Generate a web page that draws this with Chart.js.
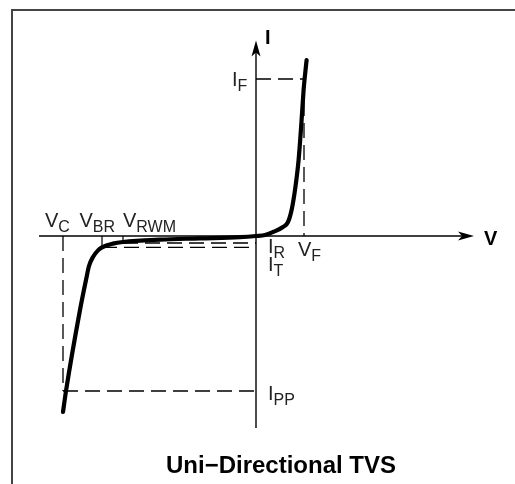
<!DOCTYPE html>
<html>
<head>
<meta charset="utf-8">
<script src="https://cdn.jsdelivr.net/npm/chart.js@4.4.0/dist/chart.umd.min.js"></script>
<style>
    html, body { margin: 0; padding: 0; background: #fff; }
    #wrap { position: relative; width: 515px; height: 484px; }
</style>
</head>
<body>
<div id="wrap"><canvas id="tvsChart"></canvas></div>
<script>
// V-I characteristic of a uni-directional TVS (arbitrary units, origin where the axes cross)
const curveV = [-9.65, -9.5, -8.8, -8.5, -8.35, -8.15, -7.9, -7.7, -7.15, -6.65, -4.8, -2.8, -0.8, 0, 0.45, 0.85, 1.35, 1.6, 1.78, 1.95, 2.13, 2.28, 2.38, 2.43, 2.53];
const curveI = [-8.8, -7.75, -3.7, -2.2, -1.5, -1.05, -0.72, -0.57, -0.38, -0.3, -0.18, -0.12, -0.06, 0, 0.05, 0.2, 0.45, 0.7, 1.3, 2.3, 3.8, 5.8, 7.3, 7.85, 8.8];

// marked voltages and currents
const vC = -9.65, vBR = -7.7, vRWM = -6.65, vF = 2.4;
const iF = 7.85, iR = -0.35, iT = -0.57, iPP = -7.75;

// axis extents and visible window
const vAxisEnds = [-10.85, 10.9];
const iAxisEnds = [-9.6, 9.77];
const viewV = [-12.8, 12.95];
const viewI = [-12.4, 11.8];

const FONT = '"Liberation Sans", Arial, Helvetica, sans-serif';

function line(points, dash, width) {
    return {
        data: points.map(([x, y]) => ({ x, y })),
        showLine: true,
        borderColor: '#000',
        borderWidth: width,
        borderDash: dash,
        pointRadius: 0,
        fill: false,
        tension: 0
    };
}

const dash = [15, 7];

const datasets = [
    {
        data: curveV.map((v, i) => ({ x: v, y: curveI[i] })),
        showLine: true,
        borderColor: '#000',
        borderWidth: 4.2,
        pointRadius: 0,
        fill: false,
        cubicInterpolationMode: 'monotone',
        borderCapStyle: 'round',
        borderJoinStyle: 'round'
    },
    line([[vAxisEnds[0], 0], [vAxisEnds[1] - 0.5, 0]], [], 1.4),
    line([[0, iAxisEnds[0]], [0, iAxisEnds[1] - 0.5]], [], 1.4),
    line([[0, iF], [vF, iF]], dash, 1.3),
    line([[vF, iF], [vF, 0]], dash, 1.3),
    line([[vC, 0], [vC, iPP]], dash, 1.3),
    line([[vC, iPP], [0, iPP]], dash, 1.3),
    line([[vRWM, iR], [0, iR]], dash, 1.3),
    line([[vBR, iT], [0, iT]], dash, 1.3),
    line([[vBR, 0], [vBR, iT]], [], 1.2),
    line([[vRWM, 0], [vRWM, iR]], [], 1.2)
];

function subLabel(ctx, main, sub, x, base) {
    ctx.font = `20px ${FONT}`;
    ctx.fillText(main, x, base);
    const w = ctx.measureText(main).width;
    ctx.font = `16px ${FONT}`;
    ctx.fillText(sub, x + w, base + 5);
}

const annotate = {
    id: 'tvsAnnotate',
    afterDatasetsDraw(chart) {
        const { ctx, scales: { x, y } } = chart;
        const x0 = x.getPixelForValue(0);
        const y0 = y.getPixelForValue(0);
        ctx.save();

        // frame
        ctx.strokeStyle = '#444';
        ctx.lineWidth = 2;
        ctx.beginPath();
        ctx.moveTo(12, chart.height);
        ctx.lineTo(12, 10);
        ctx.lineTo(chart.width, 10);
        ctx.stroke();

        // arrowheads
        ctx.fillStyle = '#000';
        const tipX = x.getPixelForValue(vAxisEnds[1]);
        ctx.beginPath();
        ctx.moveTo(tipX, y0);
        ctx.lineTo(tipX - 16, y0 - 4.5);
        ctx.lineTo(tipX - 12, y0);
        ctx.lineTo(tipX - 16, y0 + 4.5);
        ctx.closePath();
        ctx.fill();
        const tipY = y.getPixelForValue(iAxisEnds[1]);
        ctx.beginPath();
        ctx.moveTo(x0, tipY);
        ctx.lineTo(x0 - 4.5, tipY + 16);
        ctx.lineTo(x0, tipY + 12);
        ctx.lineTo(x0 + 4.5, tipY + 16);
        ctx.closePath();
        ctx.fill();

        // axis names
        ctx.textAlign = 'left';
        ctx.textBaseline = 'alphabetic';
        ctx.fillStyle = '#000';
        ctx.font = `bold 20px ${FONT}`;
        ctx.fillText('I', x0 + 9, tipY + 3.5);
        ctx.fillText('V', tipX + 10, y0 + 9);

        // level labels
        ctx.fillStyle = '#222';
        subLabel(ctx, 'V', 'C', x.getPixelForValue(vC) - 18, y0 - 9);
        subLabel(ctx, 'V', 'BR', x.getPixelForValue(vBR) - 22.5, y0 - 9);
        subLabel(ctx, 'V', 'RWM', x.getPixelForValue(vRWM), y0 - 9);
        subLabel(ctx, 'V', 'F', x.getPixelForValue(vF) - 6, y0 + 20);
        subLabel(ctx, 'I', 'F', x0 - 24, y.getPixelForValue(iF) + 7);
        subLabel(ctx, 'I', 'R', x0 + 12, y0 + 17);
        subLabel(ctx, 'I', 'T', x0 + 12, y0 + 35);
        subLabel(ctx, 'I', 'PP', x0 + 12, y.getPixelForValue(iPP) + 9);

        // caption
        ctx.fillStyle = '#000';
        ctx.textAlign = 'center';
        ctx.font = `bold 24px ${FONT}`;
        ctx.fillText('Uni\u2212Directional TVS', 281, 473);
        ctx.restore();
    }
};

new Chart(document.getElementById('tvsChart'), {
    type: 'scatter',
    data: { datasets },
    options: {
        responsive: true,
        maintainAspectRatio: false,
        animation: false,
        events: [],
        layout: { padding: 0 },
        plugins: {
            legend: { display: false },
            tooltip: { enabled: false }
        },
        scales: {
            x: { type: 'linear', display: false, min: viewV[0], max: viewV[1] },
            y: { type: 'linear', display: false, min: viewI[0], max: viewI[1] }
        }
    },
    plugins: [annotate]
});
</script>
</body>
</html>
